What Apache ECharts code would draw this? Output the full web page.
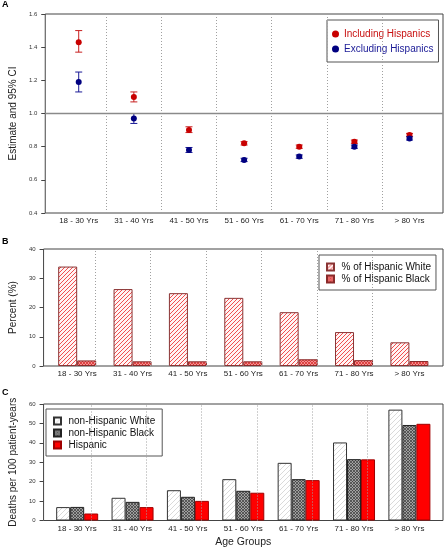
<!DOCTYPE html>
<html><head><meta charset="utf-8">
<script src="https://cdn.jsdelivr.net/npm/echarts@6/dist/echarts.min.js"></script>
<style>html,body{margin:0;padding:0;background:#fff}#c{width:444px;height:549px}</style>
</head><body><div id="c"></div>
<script>
const categories = ['18 - 30 Yrs','31 - 40 Yrs','41 - 50 Yrs','51 - 60 Yrs','61 - 70 Yrs','71 - 80 Yrs','> 80 Yrs'];
// Panel A: estimates and 95% CI
const inclEst  = [1.43,1.10,0.90,0.82,0.80,0.83,0.87];
const inclLow  = [1.37,1.07,0.885,0.81,0.79,0.82,0.86];
const inclHigh = [1.50,1.13,0.92,0.83,0.81,0.84,0.88];
const exclEst  = [1.19,0.97,0.78,0.72,0.74,0.80,0.85];
const exclLow  = [1.13,0.94,0.765,0.71,0.73,0.79,0.84];
const exclHigh = [1.25,1.00,0.795,0.73,0.75,0.81,0.86];
// Panel B: percent
const pctHispWhite = [34.0,26.3,24.9,23.3,18.4,11.6,8.1];
const pctHispBlack = [1.9,1.6,1.6,1.6,2.3,2.0,1.7];
// Panel C: deaths per 100 patient-years
const deathsNHWhite = [6.9,11.7,15.6,21.3,29.7,40.2,57.1];
const deathsNHBlack = [7.0,9.6,12.2,15.3,21.3,31.6,49.2];
const deathsHisp    = [3.6,6.9,10.1,14.3,20.8,31.5,49.8];
// tick labels
const ticksA = [0.4,0.6,0.8,1.0,1.2,1.4,1.6];
const ticksB = [0,10,20,30,40];
const ticksC = [0,10,20,30,40,50,60];

const FF = '"Liberation Sans", Arial, Helvetica, sans-serif';

function hatch(size, bg, fg, cross, lw){
  const c = document.createElement('canvas');
  c.width = size; c.height = size;
  const g = c.getContext('2d');
  g.fillStyle = bg; g.fillRect(0,0,size,size);
  g.strokeStyle = fg; g.lineWidth = lw || 1;
  g.beginPath();
  g.moveTo(-1, size+1); g.lineTo(size+1, -1);
  g.moveTo(-1, 1); g.lineTo(1, -1);
  g.moveTo(size-1, size+1); g.lineTo(size+1, size-1);
  if (cross){
    g.moveTo(-1,-1); g.lineTo(size+1,size+1);
    g.moveTo(size-1,-1); g.lineTo(size+1,1);
    g.moveTo(-1,size-1); g.lineTo(1,size+1);
  }
  g.stroke();
  return {image: c, repeat: 'repeat'};
}

const patBWhite = hatch(4, '#fff4f4', '#f05050', false, 1);
const patBBlack = hatch(3, '#f49090', '#d83030', true, 0.8);
const patCWhite = hatch(5, '#ffffff', '#d0d0d0', false, 0.8);
const patCBlack = hatch(3, '#a0a0a0', '#3a3a3a', true, 0.7);

const idx = categories.map((c,i)=>i);
const boundaries = categories.slice(1).map((c,i)=>i+0.5);
const XMIN = -0.607, XMAX = 6.607;

function xAx(gridIndex, extra){
  return Object.assign({
    type:'value', gridIndex, min:XMIN, max:XMAX,
    axisLine:{show:false, onZero:false}, axisTick:{show:false}, splitLine:{show:false},
    axisLabel:{customValues: idx, formatter: v => categories[Math.round(v)] || '', fontSize:8, color:'#222', margin:4, fontFamily:FF}
  }, extra || {});
}
function yAx(gridIndex, ticks, name, gap, fmt){
  return {
    type:'value', gridIndex, min:ticks[0], max:ticks[ticks.length-1], interval: ticks[1]-ticks[0],
    axisLine:{show:false, onZero:false},
    axisTick:{show:true, inside:false, length:4, lineStyle:{color:'#444'}},
    splitLine:{show:false},
    axisLabel:{fontSize:6, color:'#333', margin:8, fontFamily:FF, formatter: fmt},
    name, nameLocation:'middle', nameGap: gap, nameRotate:90,
    nameTextStyle:{fontSize:10, color:'#222', fontFamily:FF}
  };
}
const dividers = {
  silent:true, symbol:['none','none'], label:{show:false}, animation:false,
  lineStyle:{type:[1,2], color:'#a0a0a0', width:1},
  emphasis:{disabled:true},
  data: boundaries.map(b=>({xAxis:b}))
};

function errRender(color){
  return function(params, api){
    const i = api.value(0);
    const lo = api.coord([i, api.value(1)]);
    const hi = api.coord([i, api.value(2)]);
    const w = 3.5;
    const st = {stroke: color, lineWidth: 1};
    return {type:'group', children:[
      {type:'line', shape:{x1:lo[0], y1:lo[1], x2:hi[0], y2:hi[1]}, style:st},
      {type:'line', shape:{x1:lo[0]-w, y1:lo[1], x2:lo[0]+w, y2:lo[1]}, style:st},
      {type:'line', shape:{x1:hi[0]-w, y1:hi[1], x2:hi[0]+w, y2:hi[1]}, style:st}
    ]};
  };
}

const RED = '#c80000', BLUE = '#000080';
const legendBase = {
  orient:'vertical', selectedMode:false, backgroundColor:'#fff',
  borderColor:'#555', borderWidth:1, borderRadius:0,
  textStyle:{fontSize:10, fontFamily:FF, color:'#111'}
};

const option = {
  animation:false,
  title:[
    {text:'A', left:2, top:0, padding:0, textStyle:{fontSize:9, fontWeight:'bold', fontFamily:FF, color:'#000'}},
    {text:'B', left:2, top:237, padding:0, textStyle:{fontSize:9, fontWeight:'bold', fontFamily:FF, color:'#000'}},
    {text:'C', left:2, top:388, padding:0, textStyle:{fontSize:9, fontWeight:'bold', fontFamily:FF, color:'#000'}}
  ],
  grid:[
    {left:39, right:1, top:14, height:199, show:true, borderColor:'#444', borderWidth:1, backgroundColor:'transparent'},
    {left:39, right:1, top:249, height:117, show:true, borderColor:'#444', borderWidth:1, backgroundColor:'transparent'},
    {left:39, right:1, top:404, height:116.5, show:true, borderColor:'#444', borderWidth:1, backgroundColor:'transparent'}
  ],
  xAxis:[
    xAx(0), xAx(1),
    xAx(2, {name:'Age Groups', nameLocation:'middle', nameGap:16, nameTextStyle:{fontSize:10.5, color:'#222', fontFamily:FF}})
  ],
  yAxis:[
    yAx(0, ticksA, 'Estimate and 95% CI', 20, v => v.toFixed(1)),
    yAx(1, ticksB, 'Percent (%)', 20),
    yAx(2, ticksC, 'Deaths per 100 patient-years', 20)
  ],
  legend:[
    Object.assign({}, legendBase, {
      left:327, top:20, icon:'circle', itemWidth:7, itemHeight:7, itemGap:5, padding:[9,5,8,5],
      data:[{name:'Including Hispanics', textStyle:{color:'#c81010'}}, {name:'Excluding Hispanics', textStyle:{color:'#1a1a96'}}]
    }),
    Object.assign({}, legendBase, {
      left:319, top:255, icon:'path://M0,0H10V10H0Z', itemWidth:12, itemHeight:7, itemGap:2, padding:[7,5,6,7],
      data:['% of Hispanic White','% of Hispanic Black']
    }),
    Object.assign({}, legendBase, {
      left:46, top:409, icon:'path://M0,0H10V10H0Z', itemWidth:12, itemHeight:7, itemGap:2, padding:[7,7,6,7],
      data:['non-Hispanic White','non-Hispanic Black','Hispanic']
    })
  ],
  series:[
    {type:'custom', name:'incl CI', xAxisIndex:0, yAxisIndex:0, renderItem: errRender('#c82020'),
     encode:{x:0, y:[1,2]}, data: idx.map(i=>[i, inclLow[i], inclHigh[i]]), silent:true, z:2,
     markLine: Object.assign({}, dividers)},
    {type:'custom', name:'excl CI', xAxisIndex:0, yAxisIndex:0, renderItem: errRender('#1a1a96'),
     encode:{x:0, y:[1,2]}, data: idx.map(i=>[i, exclLow[i], exclHigh[i]]), silent:true, z:2,
     markLine:{silent:true, symbol:['none','none'], label:{show:false}, lineStyle:{type:'solid', color:'#8a8a8a', width:1.3}, data:[{yAxis:1.0}]}},
    {type:'scatter', name:'Including Hispanics', xAxisIndex:0, yAxisIndex:0, symbol:'circle', symbolSize:6,
     itemStyle:{color:RED, opacity:1}, data: idx.map(i=>[i, inclEst[i]]), z:3},
    {type:'scatter', name:'Excluding Hispanics', xAxisIndex:0, yAxisIndex:0, symbol:'circle', symbolSize:6,
     itemStyle:{color:BLUE, opacity:1}, data: idx.map(i=>[i, exclEst[i]]), z:3},

    {type:'bar', name:'% of Hispanic White', xAxisIndex:1, yAxisIndex:1, barWidth:19, barGap:'0%',
     itemStyle:{color:patBWhite, borderColor:'#8a3434', borderWidth:1},
     data: idx.map(i=>[i, pctHispWhite[i]]), markLine: Object.assign({}, dividers)},
    {type:'bar', name:'% of Hispanic Black', xAxisIndex:1, yAxisIndex:1, barWidth:19, barGap:'0%',
     itemStyle:{color:patBBlack, borderColor:'#8a2a2a', borderWidth:1},
     data: idx.map(i=>[i, pctHispBlack[i]])},

    {type:'bar', name:'non-Hispanic White', xAxisIndex:2, yAxisIndex:2, barWidth:14, barGap:'0%',
     itemStyle:{color:patCWhite, borderColor:'#333', borderWidth:1},
     data: idx.map(i=>[i, deathsNHWhite[i]]), markLine: Object.assign({}, dividers)},
    {type:'bar', name:'non-Hispanic Black', xAxisIndex:2, yAxisIndex:2, barWidth:14, barGap:'0%',
     itemStyle:{color:patCBlack, borderColor:'#222', borderWidth:1},
     data: idx.map(i=>[i, deathsNHBlack[i]])},
    {type:'bar', name:'Hispanic', xAxisIndex:2, yAxisIndex:2, barWidth:14, barGap:'0%',
     itemStyle:{color:'#ff0000', borderColor:'#a00000', borderWidth:1},
     data: idx.map(i=>[i, deathsHisp[i]])}
  ]
};
const chart = echarts.init(document.getElementById('c'), null, {renderer:'canvas'});
chart.setOption(option);
</script>
</body></html>
